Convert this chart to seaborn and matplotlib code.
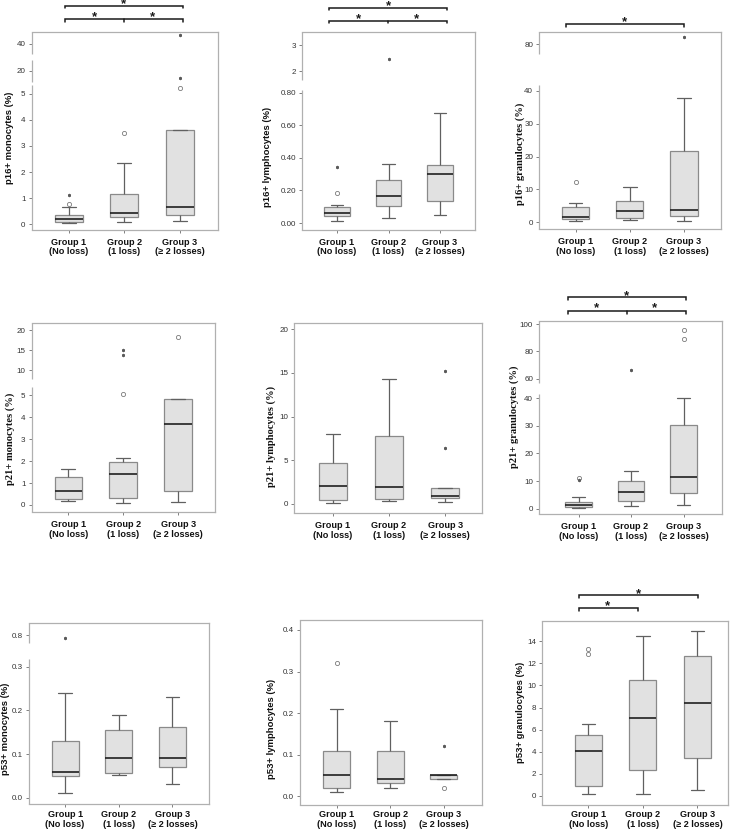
import numpy as np
import pandas as pd
import matplotlib
matplotlib.use("Agg")
import matplotlib.pyplot as plt
import seaborn as sns

sns.set_style("white")
plt.rcParams["font.family"] = ["Liberation Sans", "DejaVu Sans"]

groups = ["Group 1\n(No loss)", "Group 2\n(1 loss)", "Group 3\n(\u2265 2 losses)"]

# ---- data: per group [lower whisker, Q1, median, Q3, upper whisker]; outliers (circles) / extremes (stars)
p16_mono_box = [[0.05, 0.10, 0.22, 0.34, 0.65], [0.08, 0.27, 0.45, 1.15, 2.33], [0.13, 0.37, 0.65, 3.60, 3.60]]
p16_mono_circles = [[0.78], [3.49], [5.2]]
p16_mono_stars = [[1.12], [], [16.8, 44.1]]
p16_mono_ticks = [0, 1, 2, 3, 4, 5, 20, 40]
p16_mono_ticklabels = ["0", "1", "2", "3", "4", "5", "20", "40"]

p16_lymph_box = [[0.010, 0.045, 0.059, 0.096, 0.113], [0.031, 0.103, 0.168, 0.263, 0.363], [0.051, 0.137, 0.304, 0.355, 0.675]]
p16_lymph_circles = [[0.185], [], []]
p16_lymph_stars = [[0.343], [2.49], []]
p16_lymph_ticks = [0.0, 0.2, 0.4, 0.6, 0.8, 2, 3]
p16_lymph_ticklabels = ["0.00", "0.20", "0.40", "0.60", "0.80", "2", "3"]

p16_gran_box = [[0.3, 1.0, 1.5, 4.8, 5.8], [0.7, 1.2, 3.35, 6.4, 10.7], [0.3, 1.8, 3.65, 21.6, 37.7]]
p16_gran_circles = [[12.3], [], []]
p16_gran_stars = [[], [], [82.3]]
p16_gran_ticks = [0, 10, 20, 30, 40, 80]
p16_gran_ticklabels = ["0", "10", "20", "30", "40", "80"]

p21_mono_box = [[0.17, 0.27, 0.62, 1.29, 1.66], [0.11, 0.30, 1.40, 1.98, 2.16], [0.12, 0.62, 3.68, 4.82, 4.82]]
p21_mono_circles = [[], [5.06], [18.2]]
p21_mono_stars = [[], [13.7, 15.0], []]
p21_mono_ticks = [0, 1, 2, 3, 4, 5, 10, 15, 20]
p21_mono_ticklabels = ["0", "1", "2", "3", "4", "5", "10", "15", "20"]

p21_lymph_box = [[0.11, 0.5, 2.0, 4.66, 7.98], [0.3, 0.61, 1.9, 7.75, 14.3], [0.23, 0.65, 0.92, 1.8, 1.8]]
p21_lymph_circles = [[], [], []]
p21_lymph_stars = [[], [], [6.45, 15.2]]
p21_lymph_ticks = [0, 5, 10, 15, 20]
p21_lymph_ticklabels = ["0", "5", "10", "15", "20"]

p21_gran_box = [[0.24, 0.72, 1.2, 2.3, 4.1], [1.0, 2.66, 6.0, 9.9, 13.8], [1.45, 5.8, 11.35, 30.4, 40.0]]
p21_gran_circles = [[11.1], [], [89.0, 95.7]]
p21_gran_stars = [[10.4], [66.3], []]
p21_gran_ticks = [0, 10, 20, 30, 40, 60, 80, 100]
p21_gran_ticklabels = ["0", "10", "20", "30", "40", "60", "80", "100"]

p53_mono_box = [[0.01, 0.05, 0.06, 0.13, 0.24], [0.051, 0.056, 0.09, 0.156, 0.19], [0.031, 0.07, 0.09, 0.161, 0.23]]
p53_mono_circles = [[], [], []]
p53_mono_stars = [[0.788], [], []]
p53_mono_ticks = [0.0, 0.1, 0.2, 0.3, 0.8]
p53_mono_ticklabels = ["0.0", "0.1", "0.2", "0.3", "0.8"]

p53_lymph_box = [[0.011, 0.021, 0.052, 0.11, 0.211], [0.021, 0.032, 0.042, 0.11, 0.181], [0.042, 0.042, 0.052, 0.052, 0.052]]
p53_lymph_circles = [[0.321], [], [0.021]]
p53_lymph_stars = [[], [], [0.121]]
p53_lymph_ticks = [0.0, 0.1, 0.2, 0.3, 0.4]
p53_lymph_ticklabels = ["0.0", "0.1", "0.2", "0.3", "0.4"]

p53_gran_box = [[0.12, 0.87, 4.04, 5.51, 6.48], [0.18, 2.35, 7.08, 10.48, 14.49], [0.54, 3.43, 8.37, 12.71, 14.97]]
p53_gran_circles = [[12.86, 13.31], [], []]
p53_gran_stars = [[], [], []]
p53_gran_ticks = [0, 2, 4, 6, 8, 10, 12, 14]
p53_gran_ticklabels = ["0", "2", "4", "6", "8", "10", "12", "14"]

# ---- layout / style (frame in px: left, top, right, bottom; y segments: data lo, data hi, axes frac lo, hi)
panels = [
    dict(box=p16_mono_box, circ=p16_mono_circles, star=p16_mono_stars, ticks=p16_mono_ticks, tl=p16_mono_ticklabels,
         ylabel="p16+ monocytes (%)", serif=False, lab=(-0.12, 0.465), xpad=3.0,
         frame=(31.7, 32.3, 217.7, 230.0), xlim=(-0.665, 2.677),
         segs=[(-0.22, 5.33, 0.0, 0.733), (15.0, 25.0, 0.750, 0.860), (35.25, 45.4, 0.889, 1.0)],
         bars=[(-0.07, 2.05, 1.1346, 1.121, None), (-0.07, 2.05, 1.067, 1.0546, 0.994)],
         ast=[(0.99, 1.160), (0.455, 1.096), (1.497, 1.096)]),
    dict(box=p16_lymph_box, circ=p16_lymph_circles, star=p16_lymph_stars, ticks=p16_lymph_ticks, tl=p16_lymph_ticklabels,
         ylabel="p16+ lymphocytes (%)", serif=False, lab=(-0.199, 0.37), xpad=3.0,
         frame=(302.3, 31.7, 474.7, 230.0), xlim=(-0.674, 2.674),
         segs=[(-0.043, 0.818, 0.0, 0.706), (1.665, 3.523, 0.756, 1.0)],
         bars=[(-0.161, 2.136, 1.121, 1.108, None), (-0.161, 2.136, 1.054, 1.042, 0.996)],
         ast=[(1.0, 1.146), (0.413, 1.081), (1.547, 1.081)]),
    dict(box=p16_gran_box, circ=p16_gran_circles, star=p16_gran_stars, ticks=p16_gran_ticks, tl=p16_gran_ticklabels,
         ylabel="p16+ granulocytes (%)", serif=True, lab=(-0.106, 0.382), xpad=3.0,
         frame=(539.3, 32.3, 720.7, 229.3), xlim=(-0.672, 2.678),
         segs=[(-2.13, 41.8, 0.0, 0.7325), (76.95, 83.66, 0.888, 1.0)],
         bars=[(-0.179, 2.0, 1.042, 1.025, None)],
         ast=[(0.91, 1.068)]),
    dict(box=p21_mono_box, circ=p21_mono_circles, star=p21_mono_stars, ticks=p21_mono_ticks, tl=p21_mono_ticklabels,
         ylabel="p21+ monocytes (%)", serif=True, lab=(-0.12, 0.387), xpad=3.0,
         frame=(31.7, 322.7, 215.0, 512.3), xlim=(-0.665, 2.67),
         segs=[(-0.333, 5.365, 0.0, 0.659), (7.66, 21.9, 0.701, 1.0)],
         bars=[], ast=[]),
    dict(box=p21_lymph_box, circ=p21_lymph_circles, star=p21_lymph_stars, ticks=p21_lymph_ticks, tl=p21_lymph_ticklabels,
         ylabel="p21+ lymphocytes (%)", serif=True, lab=(-0.124, 0.402), xpad=3.0,
         frame=(294.3, 322.7, 482.3, 513.3), xlim=(-0.682, 2.657),
         segs=[(-1.07, 20.76, 0.0, 1.0)],
         bars=[], ast=[]),
    dict(box=p21_gran_box, circ=p21_gran_circles, star=p21_gran_stars, ticks=p21_gran_ticks, tl=p21_gran_ticklabels,
         ylabel="p21+ granulocytes (%)", serif=True, lab=(-0.138, 0.505), xpad=3.0,
         frame=(539.3, 321.0, 722.0, 514.3), xlim=(-0.747, 2.733),
         segs=[(-2.03, 41.45, 0.0, 0.621), (56.6, 102.2, 0.678, 1.0)],
         bars=[(-0.206, 2.041, 1.1226, 1.108, None), (-0.206, 2.041, 1.052, 1.036, 0.918)],
         ast=[(0.918, 1.150), (0.346, 1.086), (1.451, 1.086)]),
    dict(box=p53_mono_box, circ=p53_mono_circles, star=p53_mono_stars, ticks=p53_mono_ticks, tl=p53_mono_ticklabels,
         ylabel="p53+ monocytes (%)", serif=False, lab=(-0.131, 0.418), xpad=1.6,
         frame=(29.3, 622.7, 209.0, 804.3), xlim=(-0.667, 2.68),
         segs=[(-0.0151, 0.317, 0.0, 0.798), (0.76, 0.863, 0.887, 1.0)],
         bars=[], ast=[]),
    dict(box=p53_lymph_box, circ=p53_lymph_circles, star=p53_lymph_stars, ticks=p53_lymph_ticks, tl=p53_lymph_ticklabels,
         ylabel="p53+ lymphocytes (%)", serif=False, lab=(-0.157, 0.411), xpad=1.2,
         frame=(300.0, 620.0, 482.3, 805.0), xlim=(-0.686, 2.721),
         segs=[(-0.0206, 0.424, 0.0, 1.0)],
         bars=[], ast=[]),
    dict(box=p53_gran_box, circ=p53_gran_circles, star=p53_gran_stars, ticks=p53_gran_ticks, tl=p53_gran_ticklabels,
         ylabel="p53+ granulocytes (%)", serif=False, lab=(-0.119, 0.5), xpad=1.4,
         frame=(542.3, 620.7, 727.7, 805.0), xlim=(-0.844, 2.556),
         segs=[(-0.84, 15.87, 0.0, 1.0)],
         bars=[(-0.165, 2.007, 1.139, 1.123, None), (-0.165, 0.918, 1.070, 1.054, None)],
         ast=[(0.92, 1.166), (0.356, 1.097)]),
]

W, H = 735, 832
fig = plt.figure(figsize=(W / 100, H / 100), dpi=100)

BOXFACE = "#e1e1e1"
EDGE = "#8a8a8a"
MED = "#202020"
WHISK = "#606060"
FRAME = "#b0b0b0"

for p in panels:
    L, T, R, B = p["frame"]
    ax = fig.add_axes([L / W, 1 - B / H, (R - L) / W, (B - T) / H])
    rows = []
    for g, st in zip(groups, p["box"]):
        lo, q1, md, q3, hi = st
        for v in [lo, q1, q1, q1, md, q3, q3, q3, hi]:
            rows.append((g, v))
    df = pd.DataFrame(rows, columns=["group", "value"])
    sns.boxplot(data=df, x="group", y="value", order=groups, whis=(0, 100), showfliers=False,
                width=0.5, color=BOXFACE, saturation=1, linecolor=EDGE, linewidth=0.9,
                medianprops=dict(color=MED, linewidth=1.2),
                whiskerprops=dict(color=WHISK, linewidth=0.9),
                capprops=dict(color=WHISK, linewidth=0.9), ax=ax)

    kd = [v for s in p["segs"] for v in (s[0], s[1])]
    kf = [v for s in p["segs"] for v in (s[2], s[3])]

    def fwd(y, kd=kd, kf=kf):
        return np.interp(y, kd, kf)

    def inv(f, kd=kd, kf=kf):
        return np.interp(f, kf, kd)

    ax.set_yscale("function", functions=(fwd, inv))
    ax.set_ylim(kd[0], kd[-1])
    ax.set_xlim(*p["xlim"])

    for i, vals in enumerate(p["circ"]):
        if vals:
            ax.scatter([i] * len(vals), vals, s=9, facecolor="white", edgecolor="#7a7a7a",
                       linewidth=0.6, zorder=5, clip_on=False)
    for i, vals in enumerate(p["star"]):
        if vals:
            ax.scatter([i] * len(vals), vals, s=4, marker=(6, 2, 0), color="#5a5a5a",
                       linewidth=0.5, zorder=5, clip_on=False)

    ax.set_yticks(p["ticks"])
    ax.set_yticklabels(p["tl"])
    ax.set_xticks([0, 1, 2])
    ax.set_xticklabels(groups, fontweight="bold", fontsize=6.6, color="#111111", linespacing=1.1)
    ax.set_xlabel("")
    ax.set_ylabel("")
    ax.tick_params(axis="y", left=True, length=2.5, width=0.7, color="#808080", pad=2,
                   labelsize=5.8, labelcolor="#333333")
    ax.tick_params(axis="x", bottom=True, length=2.5, width=0.7, color="#808080", pad=p["xpad"])

    for sp in ["top", "right", "bottom"]:
        ax.spines[sp].set_visible(True)
        ax.spines[sp].set_color(FRAME)
        ax.spines[sp].set_linewidth(0.9)
    ax.spines["left"].set_visible(False)
    for s in p["segs"]:
        ax.plot([0, 0], [s[2], s[3]], transform=ax.transAxes, color=FRAME, lw=0.9,
                clip_on=False, solid_capstyle="butt")

    if p["serif"]:
        fam, fs = ["Liberation Serif", "DejaVu Serif"], 7.6
    else:
        fam, fs = ["Liberation Sans", "DejaVu Sans"], 6.8
    ax.text(p["lab"][0], p["lab"][1], p["ylabel"], transform=ax.transAxes, rotation=90,
            ha="center", va="center", fontsize=fs, fontweight="bold", family=fam, color="#111111")

    tr = ax.get_xaxis_transform()
    for x0, x1, y, yd, mid in p["bars"]:
        ax.plot([x0, x0, x1, x1], [yd, y, y, yd], transform=tr, color="#1a1a1a", lw=1.1,
                clip_on=False, solid_joinstyle="miter")
        if mid is not None:
            ax.plot([mid, mid], [y, yd], transform=tr, color="#1a1a1a", lw=1.1, clip_on=False)
    for x, y in p["ast"]:
        ax.annotate("*", xy=(x, y), xycoords=tr, xytext=(0, -2.7), textcoords="offset points",
                    ha="center", va="center", fontsize=9.5, fontweight="bold", color="#1a1a1a",
                    annotation_clip=False)

fig.savefig("out.png", dpi=100, facecolor="white")
